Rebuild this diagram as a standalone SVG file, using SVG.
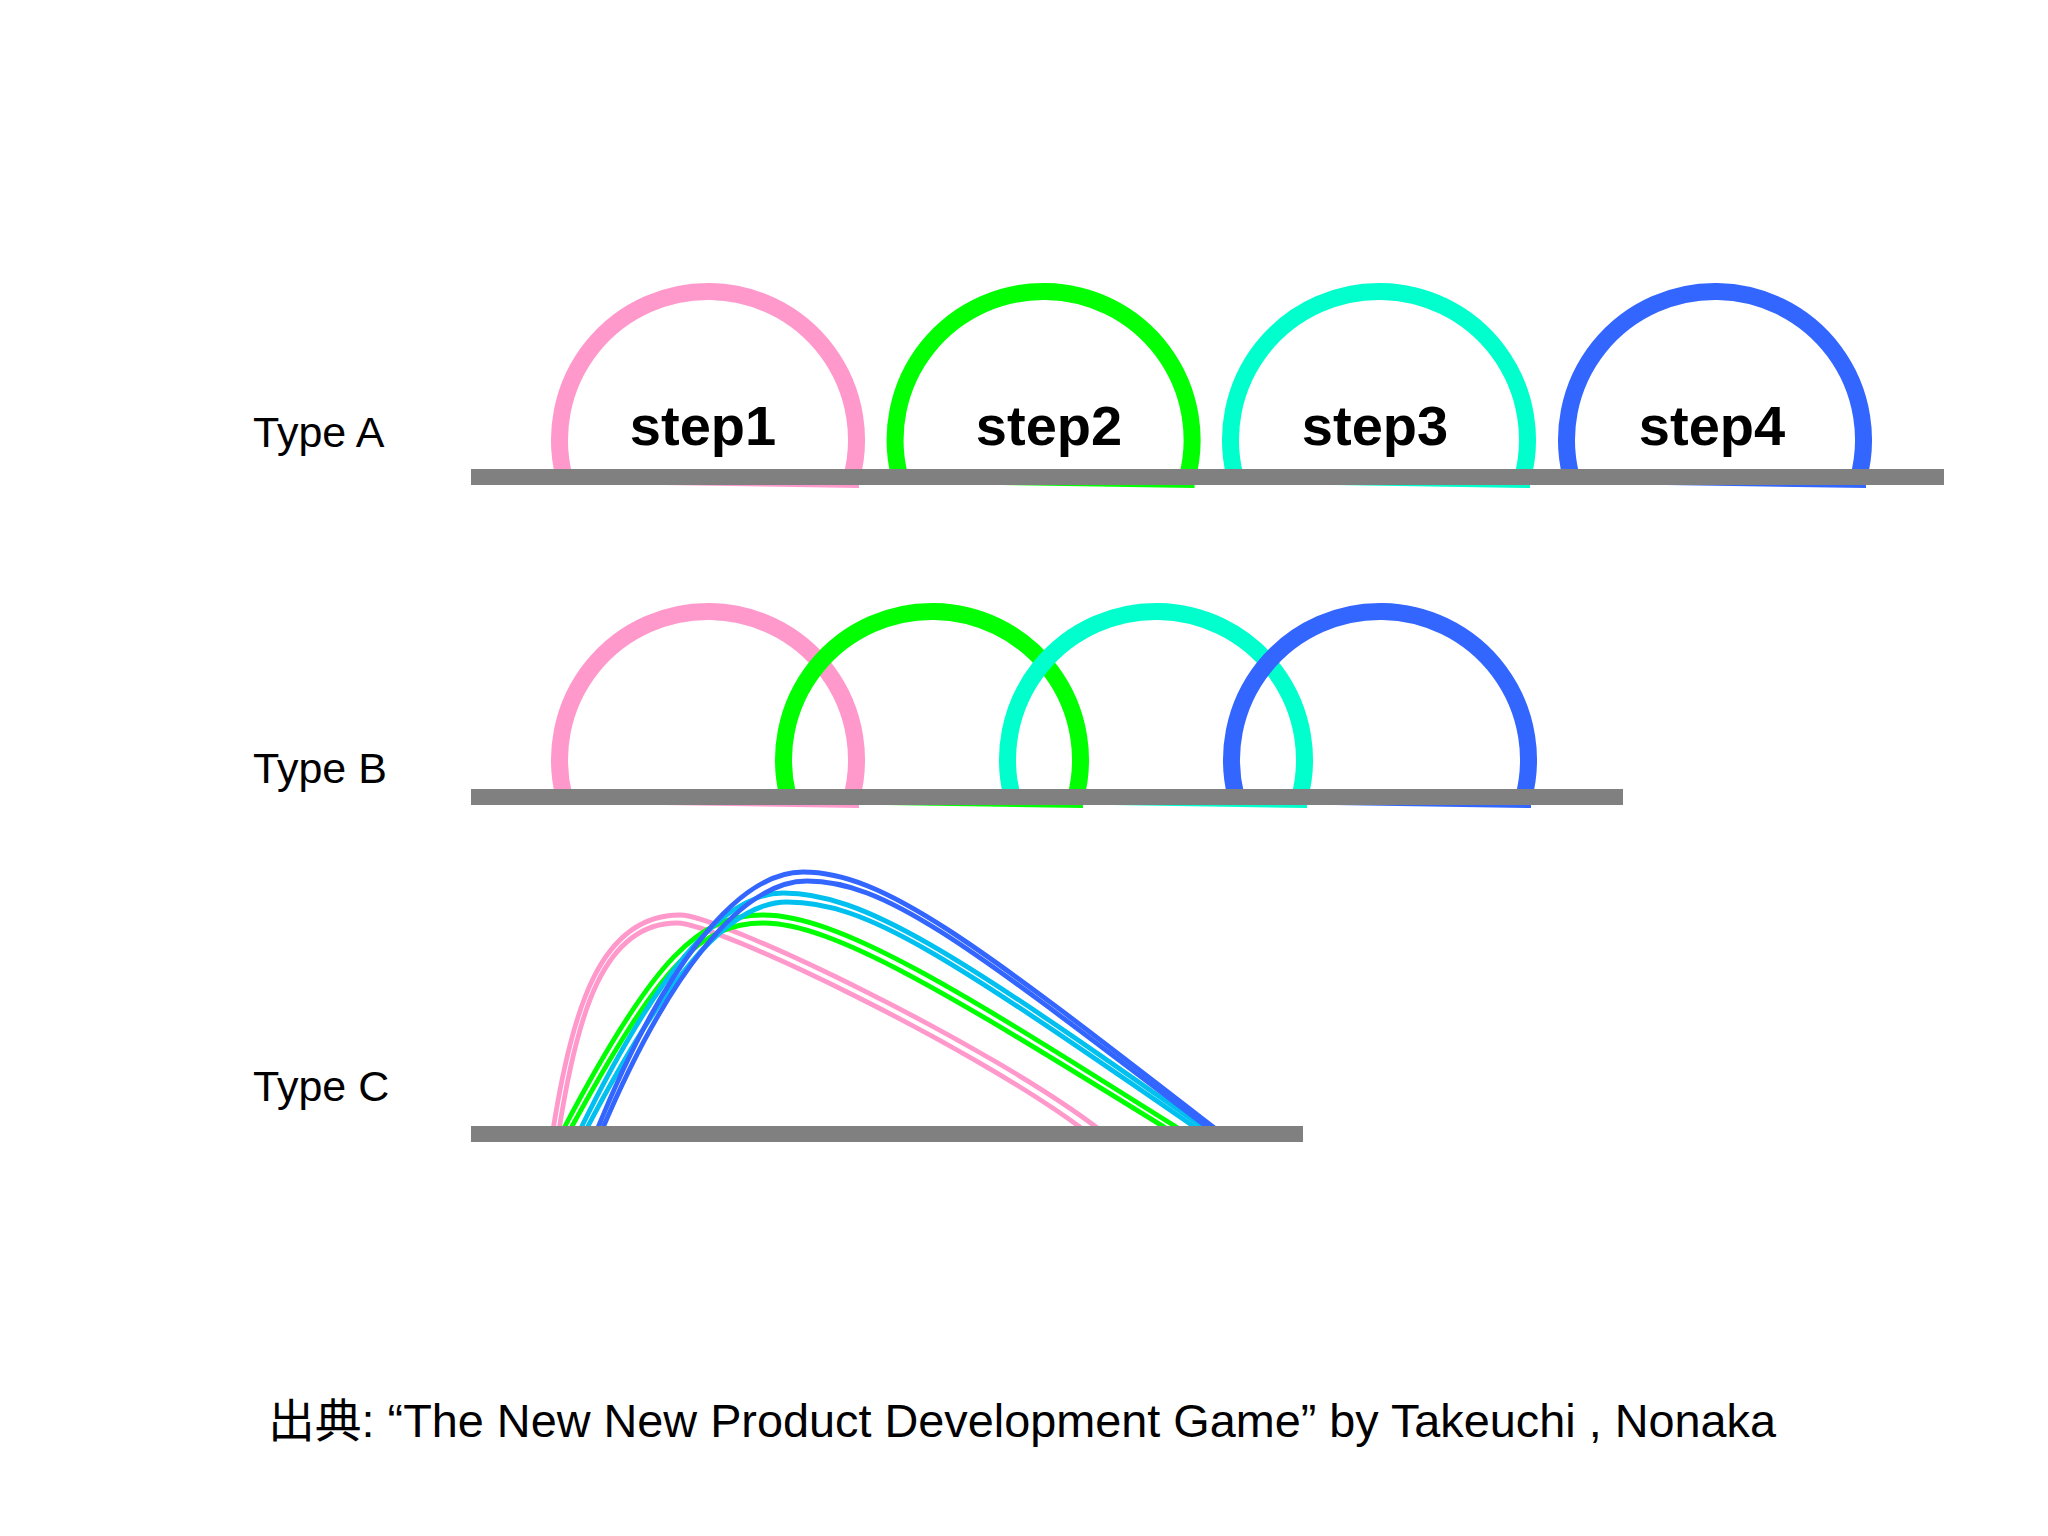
<svg xmlns="http://www.w3.org/2000/svg" width="2048" height="1536" viewBox="0 0 2048 1536">
<style>
.bg{fill:#ffffff}
.bar{fill:#808080}
.arc{fill:none;stroke-width:17;stroke-linecap:butt}
.chord{fill:none;stroke-width:3}
.wave{fill:none;stroke-width:4.8;stroke-linecap:butt}
.pink{stroke:#FF99CC}
.green{stroke:#00FF00}
.aqua{stroke:#00FFCC}
.sky{stroke:#00C0F0}
.blue{stroke:#3366FF}
.label{font-family:"Liberation Sans",Arial,sans-serif;font-size:43px;fill:#000000}
.step{font-family:"Liberation Sans",Arial,sans-serif;font-size:56px;font-weight:bold;fill:#000000;text-anchor:middle}
.note{font-family:"Liberation Sans",Arial,"Noto Sans CJK JP",sans-serif;font-size:46px;fill:#000000}
</style>
<rect class="bg" x="0" y="0" width="2048" height="1536"/>

<g id="typeA">
  <text class="label" x="253" y="447">Type A</text>
  <g id="typeA-step1">
    <path class="arc pink" d="M563.7,475 A148.5,148.5 0 1 1 851,480"/>
    <line class="chord pink" x1="562" y1="482" x2="859" y2="486.5"/>
  </g>
  <g id="typeA-step2">
    <path class="arc green" d="M899.3,475 A148.5,148.5 0 1 1 1186.6,480"/>
    <line class="chord green" x1="897.6" y1="482" x2="1194.6" y2="486.5"/>
  </g>
  <g id="typeA-step3">
    <path class="arc aqua" d="M1234.7,475 A148.5,148.5 0 1 1 1522,480"/>
    <line class="chord aqua" x1="1233" y1="482" x2="1530" y2="486.5"/>
  </g>
  <g id="typeA-step4">
    <path class="arc blue" d="M1570.7,475 A148.5,148.5 0 1 1 1858,480"/>
    <line class="chord blue" x1="1569" y1="482" x2="1866" y2="486.5"/>
  </g>
  <rect class="bar" x="471" y="469" width="1473" height="16"/>
  <text class="step" x="703" y="445">step1</text>
  <text class="step" x="1049" y="445">step2</text>
  <text class="step" x="1375" y="445">step3</text>
  <text class="step" x="1712" y="445">step4</text>
</g>

<g id="typeB">
  <text class="label" x="253" y="783">Type B</text>
  <g id="typeB-step1">
    <path class="arc pink" d="M563.7,795 A148.5,148.5 0 1 1 851,800"/>
    <line class="chord pink" x1="562" y1="802" x2="859" y2="806.5"/>
  </g>
  <g id="typeB-step2">
    <path class="arc green" d="M787.7,795 A148.5,148.5 0 1 1 1075,800"/>
    <line class="chord green" x1="786" y1="802" x2="1083" y2="806.5"/>
  </g>
  <g id="typeB-step3">
    <path class="arc aqua" d="M1011.7,795 A148.5,148.5 0 1 1 1299,800"/>
    <line class="chord aqua" x1="1010" y1="802" x2="1307" y2="806.5"/>
  </g>
  <g id="typeB-step4">
    <path class="arc blue" d="M1235.7,795 A148.5,148.5 0 1 1 1523,800"/>
    <line class="chord blue" x1="1234" y1="802" x2="1531" y2="806.5"/>
  </g>
  <rect class="bar" x="471" y="789" width="1152" height="16"/>
</g>

<g id="typeC">
  <text class="label" x="253" y="1101">Type C</text>
  <g id="typeC-pink">
    <path class="wave pink" d="M553,1130 C572,1010 600,915 680,915 C720,915 990,1045 1100,1130"/>
    <path class="wave pink" d="M559,1130 C577,1015 603,923 677,923 C717,923 975,1048 1084,1130"/>
  </g>
  <g id="typeC-green">
    <path class="wave green" d="M563,1130 C655,955 700,915 763,915 C840,915 960,991 1181,1130"/>
    <path class="wave green" d="M570,1130 C661,963 702,923 763,923 C835,923 955,998 1169,1130"/>
  </g>
  <g id="typeC-sky">
    <path class="wave sky" d="M580,1130 C653,981 720,893 783,893 C863,893 953,951 1207,1130"/>
    <path class="wave sky" d="M586,1130 C659,990 724,902 787,902 C867,902 945,955 1199,1130"/>
  </g>
  <g id="typeC-blue">
    <path class="wave blue" d="M597,1130 C660,974 735,872 803,872 C883,872 973,941 1217,1130"/>
    <path class="wave blue" d="M602,1130 C665,981 739,881 807,881 C887,881 969,946 1211,1130"/>
  </g>
  <rect class="bar" x="471" y="1126" width="832" height="16"/>
</g>

<g id="source">
  <text class="note" x="268" y="1437" textLength="1508" lengthAdjust="spacingAndGlyphs">出典: “The New New Product Development Game” by Takeuchi , Nonaka</text>
</g>
</svg>
